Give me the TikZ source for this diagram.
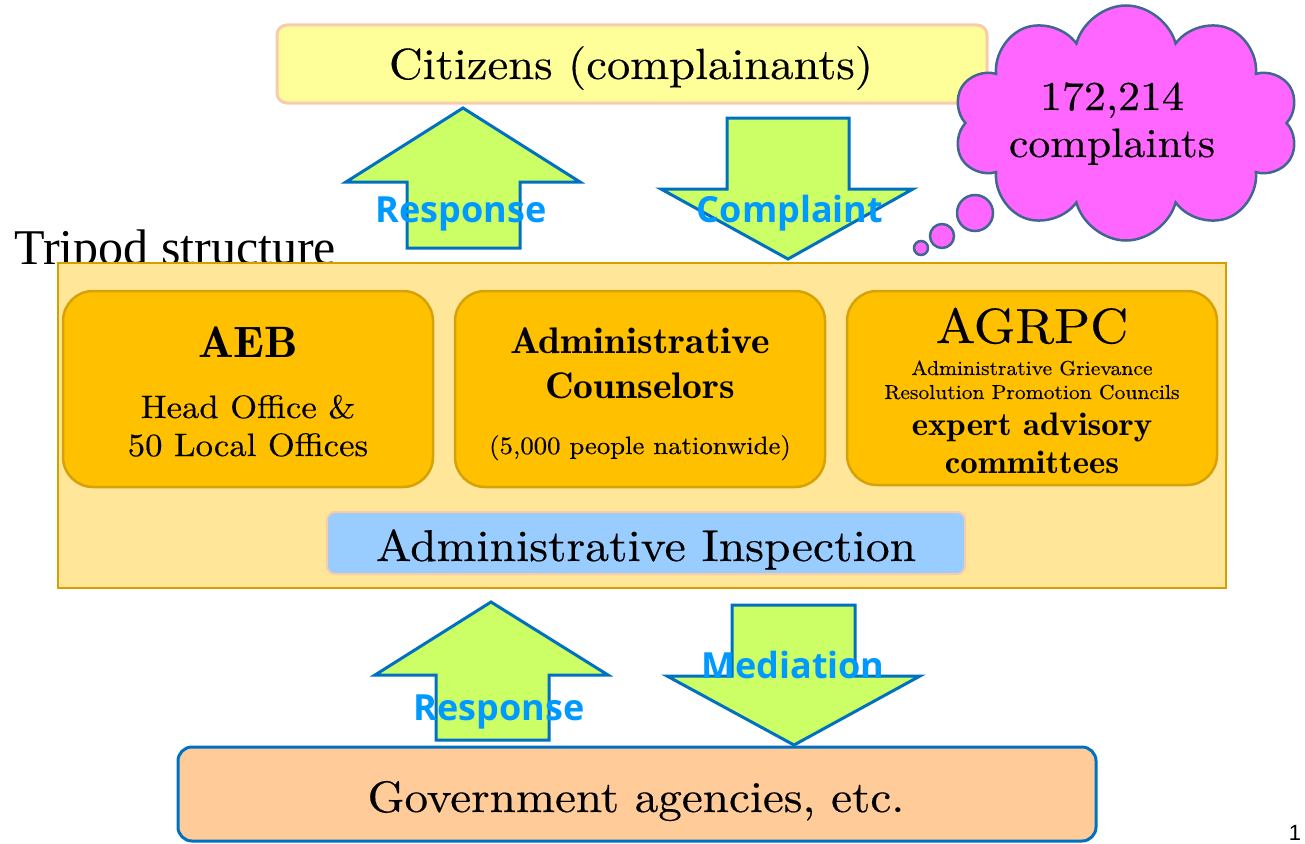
\documentclass[tikz,border=0pt]{standalone}
\usepackage{fontspec}
\usetikzlibrary{shapes.symbols}
\newfontfamily\lblfont{Open Sans}
\newfontfamily\tmsfont{Liberation Serif}
\newfontfamily\numfont{Liberation Sans}
\newfontfamily\cent{lmroman10-regular.otf}[FakeStretch=1.07,FakeBold=0.35]
\newfontfamily\centdemi{lmromandemi10-regular.otf}[FakeStretch=1.07]
\newcommand\fsz[1]{\fontsize{#1}{#1}\selectfont}
\definecolor{citfill}{HTML}{FFFF99}
\definecolor{citline}{HTML}{F8CBAD}
\definecolor{arrfill}{HTML}{CCFF66}
\definecolor{arrline}{HTML}{0070C0}
\definecolor{lblblue}{HTML}{0099FF}
\definecolor{tripfill}{HTML}{FFE699}
\definecolor{tripline}{HTML}{D4A000}
\definecolor{unitfill}{HTML}{FFC000}
\definecolor{unitline}{HTML}{D6A20A}
\definecolor{inspfill}{HTML}{99CCFF}
\definecolor{govfill}{HTML}{FFCC99}
\definecolor{cloudfill}{HTML}{FF66FF}
\definecolor{cloudline}{HTML}{41668F}
\begin{document}
\begin{tikzpicture}[x=1pt,y=-1pt,
  panel/.style={inner sep=0pt, outer sep=0pt},
  unitbox/.style={panel, draw=unitline, fill=unitfill, line width=2.5pt, rounded corners=30pt, minimum width=370pt, minimum height=196pt},
  blockarrow/.style={draw=arrline, fill=arrfill, line width=3pt, miter limit=10},
  arrlabel/.style={anchor=base, text=lblblue, font=\lblfont\bfseries\fsz{36}, inner sep=0pt},
  txt/.style={anchor=base, inner sep=0pt},
  bubble/.style={circle, draw=cloudline, fill=cloudfill, line width=2.5pt, inner sep=0pt}
]
\useasboundingbox (0,0) rectangle (1305,843);

% Tripod title (partly hidden by the panel)
\node[txt, anchor=base west, font=\tmsfont\fsz{50}] (tripT) at (14,264) {Tripod structure};

% main panel
\node[panel, draw=tripline, fill=tripfill, line width=2.5pt, minimum width=1168pt, minimum height=325pt] (trip) at (642,425.5) {};

% three units
\node[unitbox] (aeb) at (248,389) {};
\node[unitbox] (cou) at (640,389) {};
\node[unitbox, minimum height=194pt] (agr) at (1032,388) {};

\node[txt, font=\centdemi\fsz{44}] (aebT) at (248,357) {AEB};
\node[txt, font=\cent\fsz{32.4}] (aebA) at (248,418) {Head Office \&};
\node[txt, font=\cent\fsz{32.4}] (aebB) at (248,456) {50 Local Offices};

\node[txt, font=\centdemi\fsz{37}] (couA) at (640,353) {Administrative};
\node[txt, font=\centdemi\fsz{37}] (couB) at (640,398) {Counselors};
\node[txt, font=\cent\fsz{25}] (couC) at (640,454) {(5,000 people nationwide)};

\node[txt, font=\cent\fsz{49.4}] (agrT) at (1032,343) {AGRPC};
\node[txt, font=\cent\fsz{20.2}] (agrA) at (1032,375) {Administrative Grievance};
\node[txt, font=\cent\fsz{20.2}] (agrB) at (1032,399) {Resolution Promotion Councils};
\node[txt, font=\centdemi\fsz{32.6}] (agrC) at (1032,435) {expert advisory};
\node[txt, font=\centdemi\fsz{32.6}] (agrD) at (1032,473) {committees};

% inspection
\node[panel, draw=citline, fill=inspfill, line width=2pt, rounded corners=8pt, minimum width=638pt, minimum height=62pt] (insp) at (646,543) {};
\node[txt, font=\cent\fsz{44.5}] (inspT) at (646,561) {Administrative Inspection};

% citizens
\node[panel, draw=citline, fill=citfill, line width=3pt, rounded corners=10pt, minimum width=710pt, minimum height=78pt] (cit) at (632,64) {};
\node[txt, font=\cent\fsz{43.6}] (citT) at (631,79) {Citizens (complainants)};

% government
\node[panel, draw=arrline, fill=govfill, line width=3pt, rounded corners=14pt, minimum width=918pt, minimum height=94pt] (gov) at (637,794) {};
\node[txt, font=\cent\fsz{44}] (govT) at (636,812) {Government agencies, etc.};

% cloud
\node[cloud, cloud puffs=10, cloud ignores aspect, draw=cloudline, fill=cloudfill, line width=2.5pt, minimum width=345pt, minimum height=235pt, inner sep=0pt] (cloud) at (1126,123) {};
\node[bubble, minimum size=36pt] (b1) at (975,213) {};
\node[bubble, minimum size=24pt] (b2) at (942,236) {};
\node[bubble, minimum size=14pt] (b3) at (921,248) {};
\node[txt, font=\cent\fsz{41}] (cloudA) at (1112,110) {172,214};
\node[txt, font=\cent\fsz{41}] (cloudB) at (1112,157) {complaints};

% block arrows
\draw[blockarrow] (463,108) -- (580,182) -- (520,182) -- (520,248) -- (407,248) -- (407,182) -- (346,182) -- cycle;
\draw[blockarrow] (727,118) -- (849,118) -- (849,189) -- (913,189) -- (788,259) -- (661,189) -- (727,189) -- cycle;
\draw[blockarrow] (491,602) -- (608,675) -- (549,675) -- (549,740) -- (436,740) -- (436,675) -- (375,675) -- cycle;
\draw[blockarrow] (732,605) -- (855,605) -- (855,676) -- (920,676) -- (794,745) -- (667,676) -- (732,676) -- cycle;

\node[arrlabel] (resp1) at (461,222) {Response};
\node[arrlabel] (comp) at (790,222) {Complaint};
\node[arrlabel] (med) at (793,678) {Mediation};
\node[arrlabel] (resp2) at (499,720) {Response};

\node[txt, font=\numfont\fsz{22}] (pg) at (1295,840) {1};
\end{tikzpicture}
\end{document}
